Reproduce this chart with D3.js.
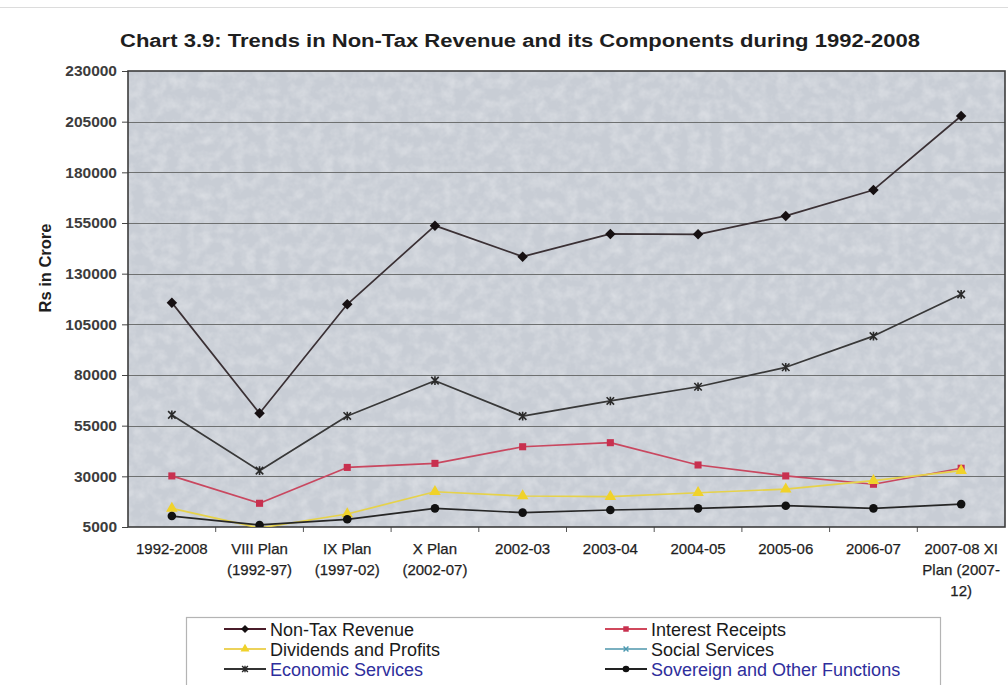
<!DOCTYPE html>
<html>
<head>
<meta charset="utf-8">
<script src="https://cdn.jsdelivr.net/npm/d3@7"></script>
<style>
  html, body { margin: 0; padding: 0; background: #fff; }
  svg { display: block; font-family: "Liberation Sans", Arial, sans-serif; }
</style>
</head>
<body>
<svg id="chart" width="1008" height="685"></svg>
<script>
// Categories along the x axis (multi-line labels split on "|")
const categories = [
  "1992-2008", "VIII Plan|(1992-97)", "IX Plan|(1997-02)", "X Plan|(2002-07)",
  "2002-03", "2003-04", "2004-05", "2005-06", "2006-07", "2007-08  XI|Plan (2007-|12)"
];

// Series values, Rs in crore
const nonTaxRevenue     = [115700, 61100, 114900, 153700, 138400, 149600, 149400, 158500, 171300, 207800];
const interestReceipts  = [30200, 16700, 34400, 36400, 44600, 46600, 35600, 30200, 26100, 34000];
const dividendsProfits  = [14200, 4500, 11400, 22400, 20300, 20000, 21900, 23700, 27900, 32800];
const socialServices    = [1200, 900, 1300, 1600, 1400, 1500, 1700, 1900, 2100, 2400];
const economicServices  = [60300, 32800, 59800, 77200, 59700, 67200, 74200, 83800, 99200, 119800];
const sovereignFunctions = [10400, 6000, 8800, 14200, 12100, 13400, 14200, 15500, 14200, 16300];

// Y axis tick values
const yTicks = [5000, 30000, 55000, 80000, 105000, 130000, 155000, 180000, 205000, 230000];

const svg = d3.select("#chart");
const W = 1008, H = 685;
const plot = { left: 128, right: 1005, top: 71, bottom: 527 };

// custom marker shapes
const diamondShape = {
  draw(ctx, size) {
    const r = Math.sqrt(size) / 2;
    ctx.moveTo(0, -r); ctx.lineTo(r, 0); ctx.lineTo(0, r); ctx.lineTo(-r, 0); ctx.closePath();
  }
};
const xShape = {
  draw(ctx, size) {
    const r = Math.sqrt(size) / 2;
    ctx.moveTo(-r, -r); ctx.lineTo(r, r);
    ctx.moveTo(r, -r); ctx.lineTo(-r, r);
  }
};
const starShape = {
  draw(ctx, size) {
    const r = Math.sqrt(size) / 2;
    ctx.moveTo(-r, -r); ctx.lineTo(r, r);
    ctx.moveTo(r, -r); ctx.lineTo(-r, r);
    ctx.moveTo(0, -r * 1.15); ctx.lineTo(0, r * 1.15);
  }
};

const series = [
  { name: "Non-Tax Revenue", values: nonTaxRevenue, line: "#3a3034", legendLine: "#4a1c2a",
    marker: diamondShape, size: 110, fill: "#161012", stroke: "none", text: "#1a1a1a" },
  { name: "Interest Receipts", values: interestReceipts, line: "#c9475f", legendLine: "#d0485c",
    marker: d3.symbolSquare, size: 50, fill: "#c8304f", stroke: "none", text: "#1a1a1a" },
  { name: "Dividends and Profits", values: dividendsProfits, line: "#e6d24a", legendLine: "#ecd25a",
    marker: d3.symbolTriangle, size: 58, fill: "#f0d22a", stroke: "none", text: "#1a1a1a" },
  { name: "Social Services", values: socialServices, line: "#6aa8b8", legendLine: "#7ab0c0",
    marker: xShape, size: 40, fill: "none", stroke: "#4a98b0", text: "#1a1a1a" },
  { name: "Economic Services", values: economicServices, line: "#383838", legendLine: "#333",
    marker: starShape, size: 56, fill: "none", stroke: "#2a2a2a", text: "#2e2e9c" },
  { name: "Sovereign and Other Functions", values: sovereignFunctions, line: "#262626", legendLine: "#222",
    marker: d3.symbolCircle, size: 58, fill: "#111", stroke: "none", text: "#2e2e9c" }
];

// Scales
const x = d3.scaleBand().domain(categories).range([plot.left, plot.right]).padding(0);
const xc = c => x(c) + x.bandwidth() / 2;
const y = d3.scaleLinear().domain([5000, 230000]).range([plot.bottom, plot.top]);

const defs = svg.append("defs");
defs.append("clipPath").attr("id", "plotClip")
  .append("rect")
  .attr("x", plot.left).attr("y", plot.top)
  .attr("width", plot.right - plot.left).attr("height", plot.bottom - plot.top);

// fine grained texture for the plot area
const tex = defs.append("filter").attr("id", "texture")
  .attr("x", 0).attr("y", 0).attr("width", 1).attr("height", 1);
tex.append("feTurbulence").attr("type", "fractalNoise")
  .attr("baseFrequency", "0.09").attr("numOctaves", 3).attr("seed", 11).attr("result", "n");
tex.append("feColorMatrix").attr("in", "n").attr("type", "matrix")
  .attr("values", "0 0 0 0 1  0 0 0 0 1  0 0 0 0 1  1.4 0 0 0 -0.5")
  .attr("result", "veins");
tex.append("feComposite").attr("in", "veins").attr("in2", "SourceGraphic").attr("operator", "in");

// outer chart frame line
svg.append("line").attr("x1", 0).attr("x2", W).attr("y1", 7.5).attr("y2", 7.5)
  .attr("stroke", "#dcdcdc").attr("stroke-width", 1);

// plot background
svg.append("rect")
  .attr("x", plot.left).attr("y", plot.top)
  .attr("width", plot.right - plot.left).attr("height", plot.bottom - plot.top)
  .attr("fill", "#c8cdd5");
svg.append("rect")
  .attr("x", plot.left).attr("y", plot.top)
  .attr("width", plot.right - plot.left).attr("height", plot.bottom - plot.top)
  .attr("fill", "#fff").attr("opacity", 0.4).attr("filter", "url(#texture)");

// gridlines
svg.append("g").selectAll("line").data(yTicks.slice(1, -1)).join("line")
  .attr("x1", plot.left).attr("x2", plot.right)
  .attr("y1", d => Math.round(y(d)) + 0.5).attr("y2", d => Math.round(y(d)) + 0.5)
  .attr("stroke", "#6e7070").attr("stroke-width", 1);

// Y axis
const yAxis = svg.append("g").attr("transform", `translate(${plot.left},0)`)
  .call(d3.axisLeft(y).tickValues(yTicks).tickSize(6).tickPadding(5).tickFormat(d3.format("d")));
yAxis.select(".domain").remove();
yAxis.selectAll(".tick line").attr("stroke", "#444");
yAxis.selectAll(".tick text")
  .attr("font-size", 15.5).attr("font-weight", "bold").attr("fill", "#3c3c3c")
  .attr("font-family", "'Liberation Sans', Arial, sans-serif");

// X axis
const xAxis = svg.append("g").attr("transform", `translate(0,${plot.bottom})`)
  .call(d3.axisBottom(x).tickSize(0).tickFormat(""));
xAxis.select(".domain").remove();
svg.append("g").selectAll("line").data(categories.slice(1)).join("line")
  .attr("x1", d => x(d)).attr("x2", d => x(d))
  .attr("y1", plot.bottom).attr("y2", plot.bottom + 5)
  .attr("stroke", "#555");

const xl = svg.append("g").selectAll("text").data(categories).join("text")
  .attr("x", d => xc(d)).attr("y", plot.bottom + 27)
  .attr("text-anchor", "middle").attr("font-size", 15).attr("fill", "#1e1e1e")
  .attr("stroke", "#1e1e1e").attr("stroke-width", 0.25);
xl.each(function (d) {
  const parts = d.split("|");
  d3.select(this).selectAll("tspan").data(parts).join("tspan")
    .attr("x", xc(d)).attr("dy", (p, i) => i === 0 ? 0 : 21).text(p => p);
});

// plot border
svg.append("rect")
  .attr("x", plot.left).attr("y", plot.top)
  .attr("width", plot.right - plot.left).attr("height", plot.bottom - plot.top)
  .attr("fill", "none").attr("stroke", "#3c3c3c").attr("stroke-width", 1.6);

// series lines and markers
const lineGen = d3.line().x((v, i) => xc(categories[i])).y(v => y(v));
const seriesG = svg.append("g").attr("clip-path", "url(#plotClip)");
series.forEach(s => {
  seriesG.append("path").datum(s.values)
    .attr("d", lineGen).attr("fill", "none")
    .attr("stroke", s.line).attr("stroke-width", 1.7).attr("stroke-linejoin", "round");
  seriesG.append("g").selectAll("path").data(s.values).join("path")
    .attr("transform", (v, i) => `translate(${xc(categories[i])},${y(v)})`)
    .attr("d", d3.symbol().type(s.marker).size(s.size))
    .attr("fill", s.fill).attr("stroke", s.stroke).attr("stroke-width", 1.6);
});

// title
svg.append("text")
  .attr("x", 520).attr("y", 47).attr("text-anchor", "middle")
  .attr("font-size", 17.5).attr("font-weight", "bold").attr("fill", "#1e1e1e")
  .attr("textLength", 800).attr("lengthAdjust", "spacingAndGlyphs")
  .text("Chart 3.9: Trends in Non-Tax Revenue and its Components during 1992-2008");

// y axis title
svg.append("text")
  .attr("transform", "translate(51,268) rotate(-90)")
  .attr("text-anchor", "middle").attr("font-size", 16.5).attr("font-weight", "bold").attr("fill", "#1e1e1e")
  .text("Rs in Crore");

// legend
const legend = svg.append("g");
legend.append("rect")
  .attr("x", 186.5).attr("y", 617.5).attr("width", 754).attr("height", 80)
  .attr("fill", "#fff").attr("stroke", "#b4b4b4").attr("stroke-width", 1.2);
const legendPos = [
  { x: 224, y: 629 }, { x: 605, y: 629 },
  { x: 224, y: 649 }, { x: 605, y: 649 },
  { x: 224, y: 669 }, { x: 605, y: 669 }
];
series.forEach((s, i) => {
  const p = legendPos[i];
  const g = legend.append("g").attr("transform", `translate(${p.x},${p.y})`);
  g.append("line").attr("x1", 0).attr("x2", 42).attr("y1", 0).attr("y2", 0)
    .attr("stroke", s.legendLine).attr("stroke-width", 1.8);
  g.append("path").attr("transform", "translate(21,0)")
    .attr("d", d3.symbol().type(s.marker).size(s.size * 0.6))
    .attr("fill", s.fill).attr("stroke", s.stroke).attr("stroke-width", 1.4);
  g.append("text").attr("x", 46).attr("y", 6.5)
    .attr("font-size", 18).attr("fill", s.text).text(s.name);
});
</script>
</body>
</html>
